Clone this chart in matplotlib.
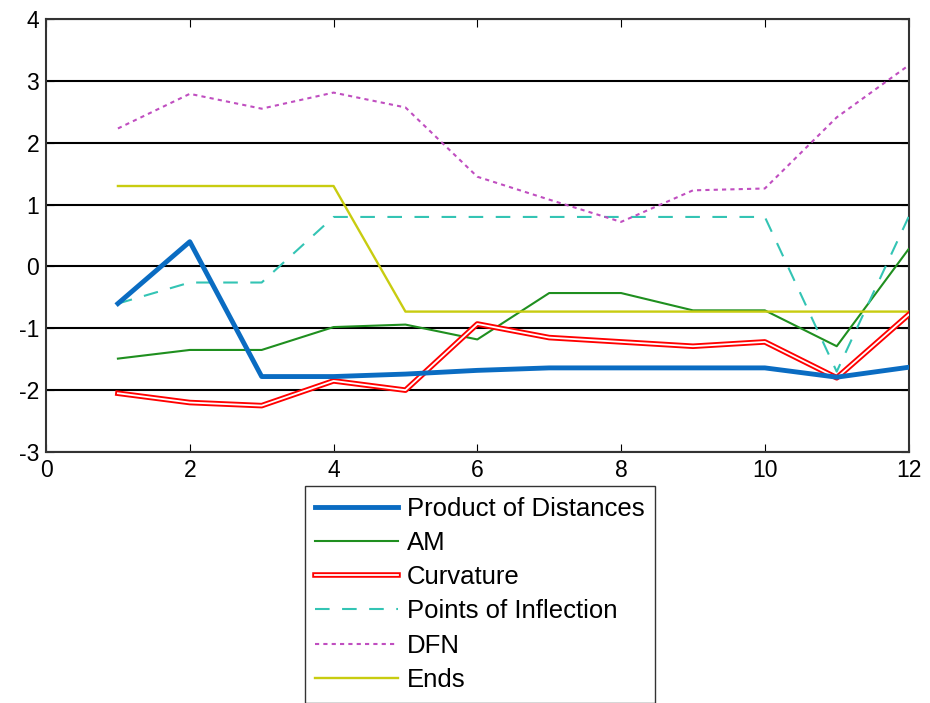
import matplotlib.pyplot as plt
from matplotlib.legend_handler import HandlerTuple

plt.rcParams['font.family'] = ['Liberation Sans', 'DejaVu Sans']
plt.rcParams['axes.unicode_minus'] = False

x = [1, 2, 3, 4, 5, 6, 7, 8, 9, 10, 11, 12]
product_dist = [-0.6, 0.4, -1.78, -1.78, -1.74, -1.68, -1.64, -1.64, -1.64, -1.64, -1.79, -1.63]
am = [-1.49, -1.35, -1.35, -0.98, -0.94, -1.18, -0.43, -0.43, -0.71, -0.71, -1.29, 0.28]
curvature = [-2.05, -2.2, -2.25, -1.85, -2.0, -0.93, -1.15, -1.22, -1.29, -1.22, -1.8, -0.78]
inflection = [-0.6, -0.26, -0.26, 0.8, 0.8, 0.8, 0.8, 0.8, 0.8, 0.8, -1.7, 0.8]
dfn = [2.23, 2.79, 2.55, 2.81, 2.57, 1.45, 1.08, 0.72, 1.23, 1.26, 2.41, 3.25]
ends = [1.3, 1.3, 1.3, 1.3, -0.73, -0.73, -0.73, -0.73, -0.73, -0.73, -0.73, -0.73]

fig = plt.figure(figsize=(9.3, 7.03), dpi=100)
ax = fig.add_axes([0.0495, 0.357, 0.9275, 0.616])

l1, = ax.plot(x, product_dist, color="#0a6cc2", lw=3.5, zorder=8)
l2, = ax.plot(x, am, color="#1f8f1f", lw=1.5, zorder=5)
l3a, = ax.plot(x, curvature, color="red", lw=4.0, zorder=6)
l3b, = ax.plot(x, curvature, color="white", lw=1.3, zorder=6)
l4, = ax.plot(x, inflection, color="#33c4b4", lw=1.5, ls=(0, (7, 6)), zorder=5)
l5, = ax.plot(x, dfn, color="#c04ec0", lw=1.5, ls=(0, (2, 2)), zorder=5)
l6, = ax.plot(x, ends, color="#c8cc10", lw=1.7, zorder=5)

ax.set_xlim(0, 12)
ax.set_ylim(-3, 4)
ax.set_xticks(range(0, 13, 2))
ax.set_yticks(range(-3, 5))
ax.yaxis.grid(True, color="black", lw=1.5)
ax.set_axisbelow(True)
ax.tick_params(direction="in", top=True, right=True, labelsize=16.5, length=6, pad=5)
for s in ax.spines.values():
    s.set_linewidth(1.5)
    s.set_color("#333333")

fig.legend([l1, l2, (l3a, l3b), l4, l5, l6],
           ["Product of Distances", "AM", "Curvature", "Points of Inflection", "DFN", "Ends"],
           handler_map={tuple: HandlerTuple(ndivide=1)},
           loc="upper center", bbox_to_anchor=(0.516, 0.309), fontsize=18.5,
           frameon=True, fancybox=False, edgecolor="#333333", framealpha=1,
           handlelength=3.2, labelspacing=0.4, borderpad=0.42, handletextpad=0.35,
           borderaxespad=0)

plt.savefig("out.png", dpi=100)
